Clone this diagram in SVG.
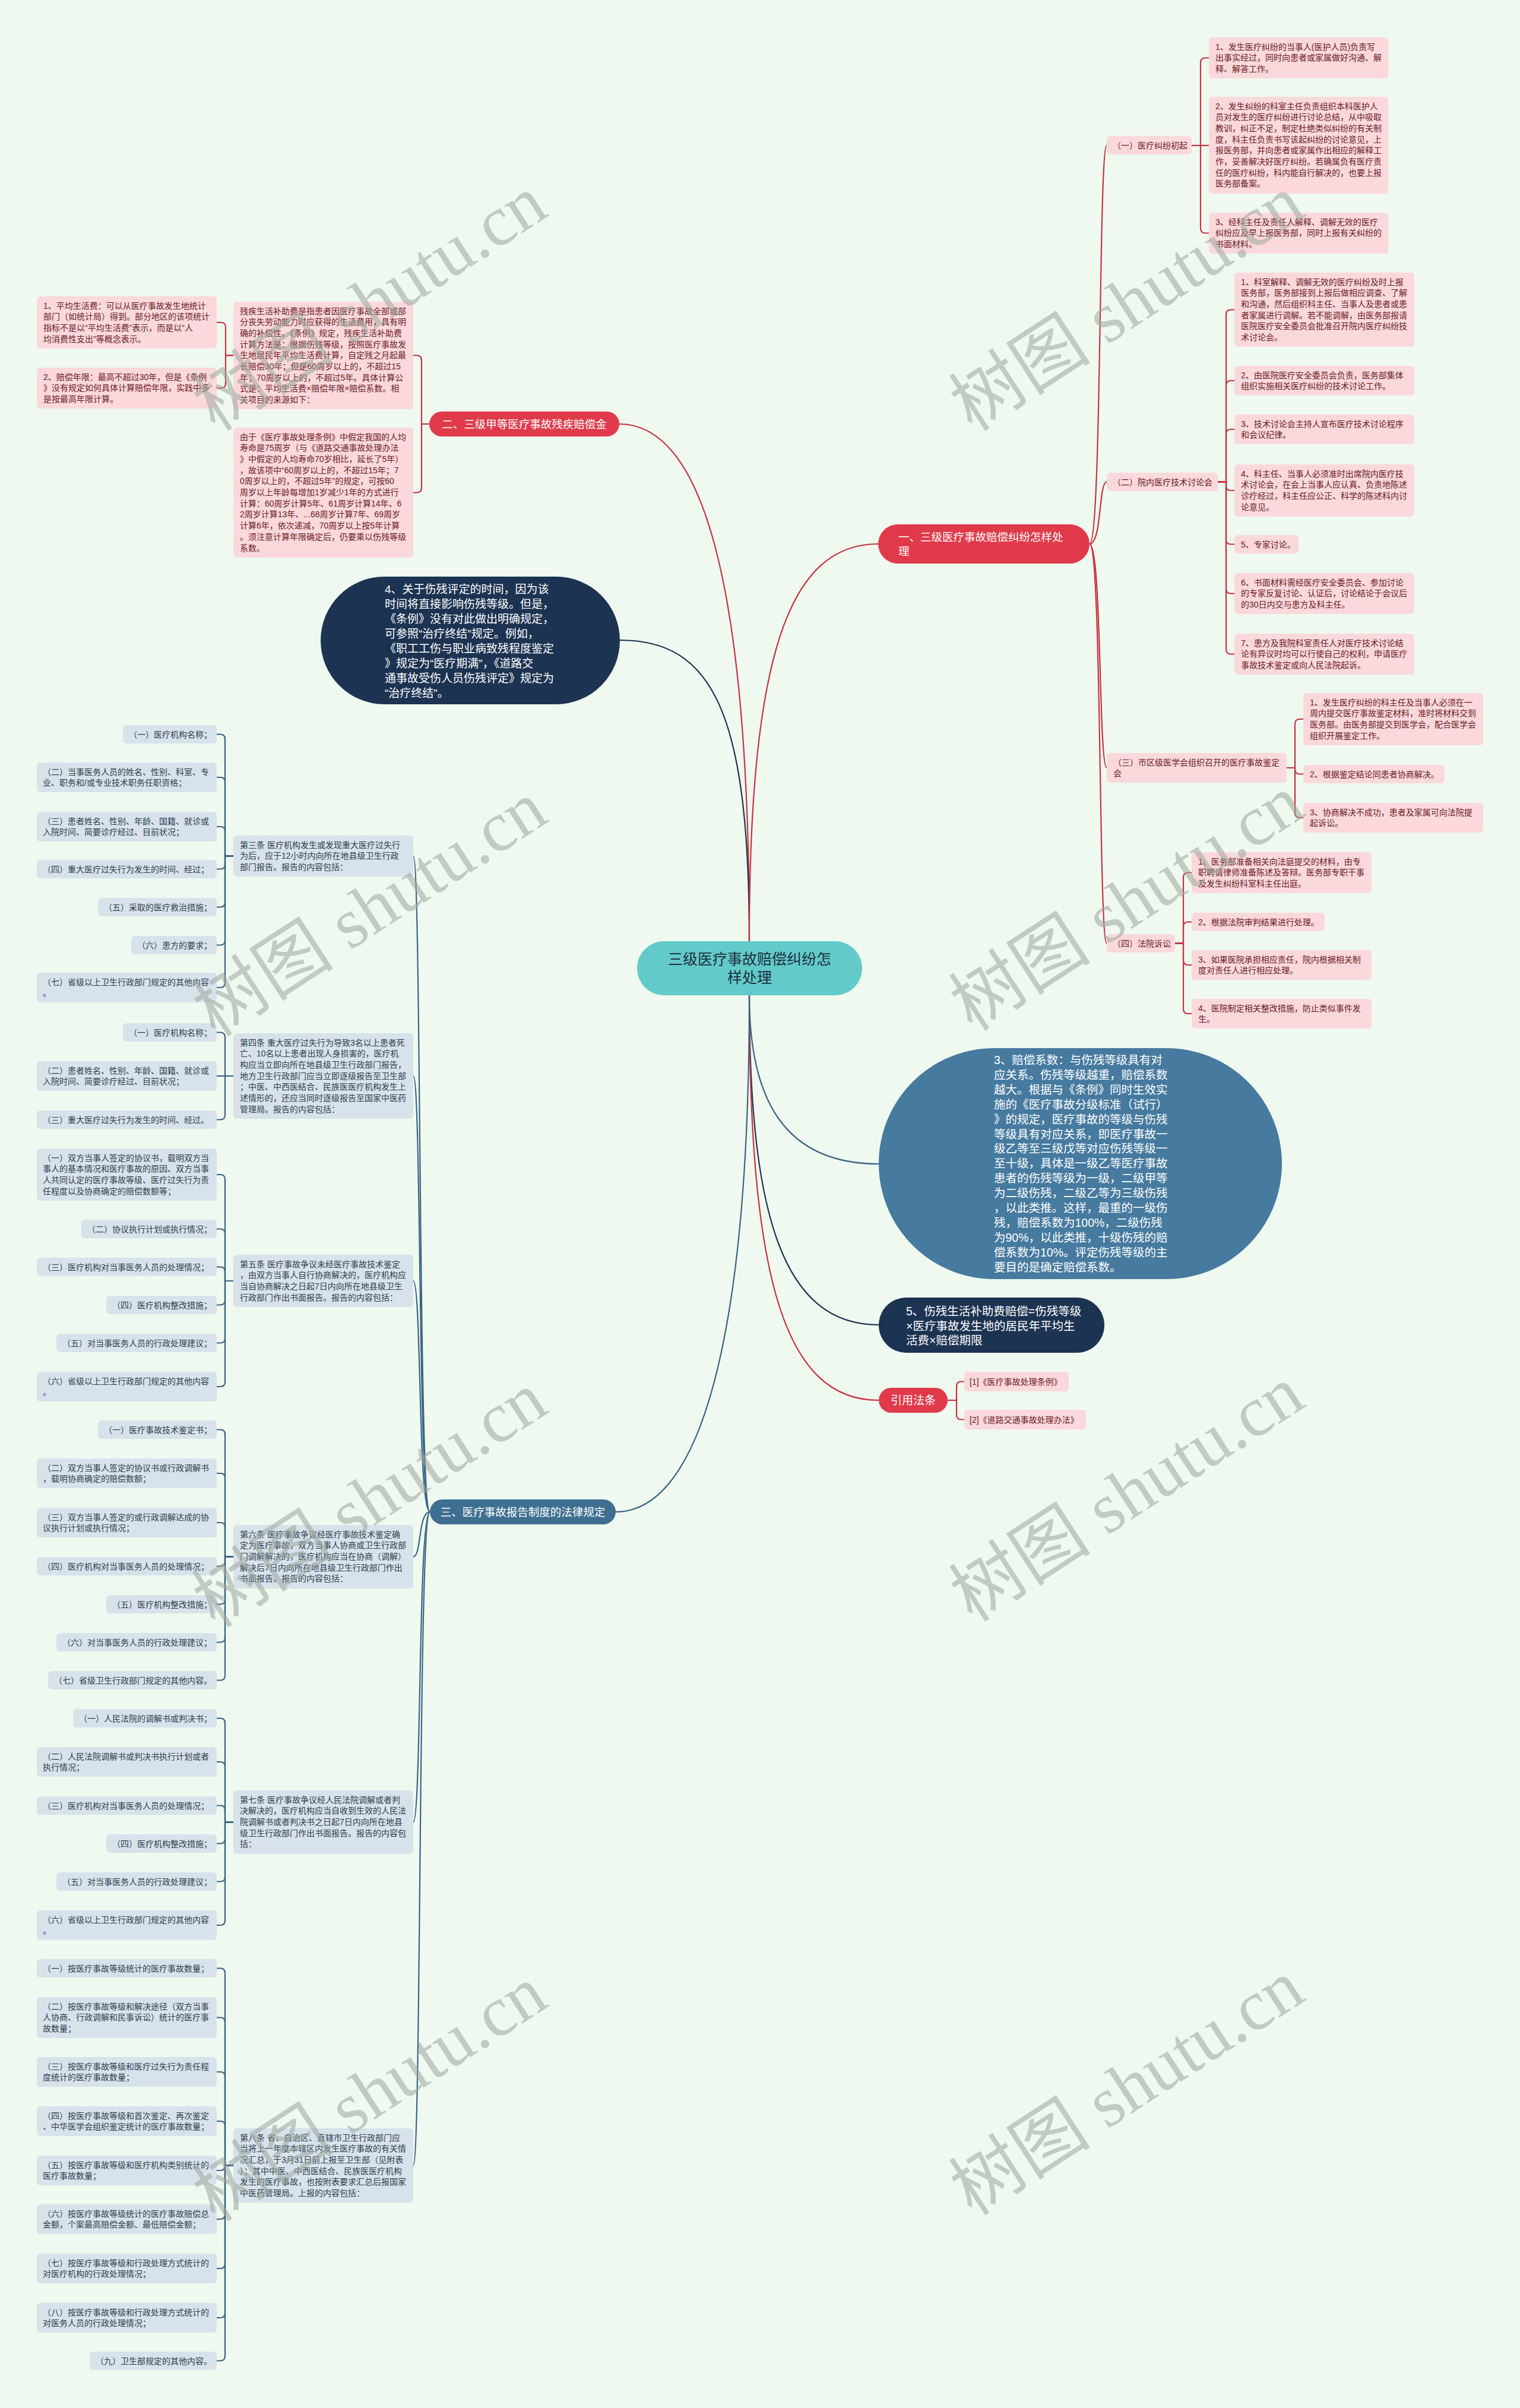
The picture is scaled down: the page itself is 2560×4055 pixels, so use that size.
<svg xmlns="http://www.w3.org/2000/svg" width="2560" height="4055" viewBox="0 0 2560 4055">
<defs>
<style>
text{font-family:"Liberation Sans","Noto Sans CJK SC",sans-serif;}
.pl{fill:#fbd8dc}
.bl{fill:#d8e2eb}
.tp{font-size:14px;fill:#6a1b24}
.tb{font-size:14px;fill:#2d3e50}
.cr{fill:none;stroke:#c83240;stroke-width:2.2}
.cb{fill:none;stroke:#3a6484;stroke-width:2.2}
.cn{fill:none;stroke:#1d3352;stroke-width:2.2}
.red{fill:#e03a4a}
.wt{fill:#ffffff}
.wm{font-family:"Liberation Serif","Noto Sans CJK SC",serif;font-size:120px;fill:#9ea79e;opacity:0.55}
</style>
</defs>
<rect x="0" y="0" width="2560" height="4055" fill="#eff9ef"/>

<g id="connectors">
<!-- root to main branches -->
<path class="cr" d="M1262,1585 C1262,1050 1200,714 1043,714"/>
<path class="cn" d="M1262,1585 C1262,1200 1200,1078 1044,1078"/>
<path class="cr" d="M1262,1585 C1262,1100 1330,916 1479,916"/>
<path class="cb" d="M1262,1676 C1262,1850 1320,1960 1480,1960"/>
<path class="cn" d="M1262,1676 C1262,2050 1320,2231 1480,2231"/>
<path class="cr" d="M1262,1676 C1262,2150 1320,2358 1480,2358"/>
<path class="cb" d="M1262,1676 C1262,2250 1180,2546 1037,2546"/>
<!-- branch 1 spine -->
<path class="cr" d="M1835,916 C1856,916 1850,245 1864,245"/>
<path class="cr" d="M1835,916 C1856,916 1850,811.5 1864,811.5"/>
<path class="cr" d="M1835,916 C1856,916 1850,1293 1864,1293"/>
<path class="cr" d="M1835,916 C1856,916 1850,1588.5 1864,1588.5"/>
<!-- (一) -->
<path class="cr" d="M2007,245 H2022 V105.5 Q2022,97.5 2030,97.5 H2036"/>
<path class="cr" d="M2007,245 H2036"/>
<path class="cr" d="M2007,245 H2022 V384.5 Q2022,392.5 2030,392.5 H2036"/>
<!-- (二) -->
<path class="cr" d="M2051,811.5 H2065 V529.5 Q2065,521.5 2073,521.5 H2079"/>
<path class="cr" d="M2051,811.5 H2065 V649 Q2065,641 2073,641 H2079"/>
<path class="cr" d="M2051,811.5 H2065 V731 Q2065,723 2073,723 H2079"/>
<path class="cr" d="M2051,811.5 H2065 V818 Q2065,826 2073,826 H2079"/>
<path class="cr" d="M2051,811.5 H2065 V908.5 Q2065,916.5 2073,916.5 H2079"/>
<path class="cr" d="M2051,811.5 H2065 V991.5 Q2065,999.5 2073,999.5 H2079"/>
<path class="cr" d="M2051,811.5 H2065 V1093.5 Q2065,1101.5 2073,1101.5 H2079"/>
<!-- (三) -->
<path class="cr" d="M2167,1293 H2181 V1219 Q2181,1211 2189,1211 H2195"/>
<path class="cr" d="M2167,1293 H2181 V1295.5 Q2181,1303.5 2189,1303.5 H2195"/>
<path class="cr" d="M2167,1293 H2181 V1369 Q2181,1377 2189,1377 H2195"/>
<!-- (四) -->
<path class="cr" d="M1979,1588.5 H1993 V1477.5 Q1993,1469.5 2001,1469.5 H2007"/>
<path class="cr" d="M1979,1588.5 H1993 V1560.5 Q1993,1552.5 2001,1552.5 H2007"/>
<path class="cr" d="M1979,1588.5 H1993 V1617 Q1993,1625 2001,1625 H2007"/>
<path class="cr" d="M1979,1588.5 H1993 V1699 Q1993,1707 2001,1707 H2007"/>
<!-- branch 2 -->
<path class="cr" d="M723,714 H710 V606.5 Q710,598.5 702,598.5 H696"/>
<path class="cr" d="M723,714 H710 V821.5 Q710,829.5 702,829.5 H696"/>
<path class="cr" d="M393,598.5 H380 V551 Q380,543 372,543 H365"/>
<path class="cr" d="M393,598.5 H380 V645.5 Q380,653.5 372,653.5 H365"/>
<!-- 引用法条 -->
<path class="cr" d="M1596,2358 H1611 V2334.5 Q1611,2326.5 1619,2326.5 H1624"/>
<path class="cr" d="M1596,2358 H1611 V2382.5 Q1611,2390.5 1619,2390.5 H1624"/>
<!-- branch 3 spine -->
<path class="cb" d="M724,2546 C704,2546 710,1441.5 696,1441.5"/>
<path class="cb" d="M724,2546 C704,2546 710,1812 696,1812"/>
<path class="cb" d="M724,2546 C704,2546 710,2157 696,2157"/>
<path class="cb" d="M724,2546 C704,2546 710,2621.5 696,2621.5"/>
<path class="cb" d="M724,2546 C704,2546 710,3068.5 696,3068.5"/>
<path class="cb" d="M724,2546 C704,2546 710,3646.5 696,3646.5"/>
<!-- 第三条 -->
<path class="cb" d="M393,1441.5 H379 V1244.5 Q379,1236.5 371,1236.5 H365"/>
<path class="cb" d="M393,1441.5 H379 V1317 Q379,1309 371,1309 H365"/>
<path class="cb" d="M393,1441.5 H379 V1400 Q379,1392 371,1392 H365"/>
<path class="cb" d="M393,1441.5 H379 V1455.5 Q379,1463.5 371,1463.5 H365"/>
<path class="cb" d="M393,1441.5 H379 V1519.5 Q379,1527.5 371,1527.5 H365"/>
<path class="cb" d="M393,1441.5 H379 V1583.5 Q379,1591.5 371,1591.5 H365"/>
<path class="cb" d="M393,1441.5 H379 V1655 Q379,1663 371,1663 H365"/>
<!-- 第四条 -->
<path class="cb" d="M393,1812 H379 V1746.5 Q379,1738.5 371,1738.5 H365"/>
<path class="cb" d="M393,1812 H365"/>
<path class="cb" d="M393,1812 H379 V1877.5 Q379,1885.5 371,1885.5 H365"/>
<!-- 第五条 -->
<path class="cb" d="M393,2157 H379 V1986 Q379,1978 371,1978 H365"/>
<path class="cb" d="M393,2157 H379 V2077.5 Q379,2069.5 371,2069.5 H365"/>
<path class="cb" d="M393,2157 H379 V2141.5 Q379,2133.5 371,2133.5 H365"/>
<path class="cb" d="M393,2157 H379 V2189.5 Q379,2197.5 371,2197.5 H365"/>
<path class="cb" d="M393,2157 H379 V2253.5 Q379,2261.5 371,2261.5 H365"/>
<path class="cb" d="M393,2157 H379 V2327 Q379,2335 371,2335 H365"/>
<!-- 第六条 -->
<path class="cb" d="M393,2621.5 H379 V2415.5 Q379,2407.5 371,2407.5 H365"/>
<path class="cb" d="M393,2621.5 H379 V2489 Q379,2481 371,2481 H365"/>
<path class="cb" d="M393,2621.5 H379 V2572 Q379,2564 371,2564 H365"/>
<path class="cb" d="M393,2621.5 H379 V2629.5 Q379,2637.5 371,2637.5 H365"/>
<path class="cb" d="M393,2621.5 H379 V2693.5 Q379,2701.5 371,2701.5 H365"/>
<path class="cb" d="M393,2621.5 H379 V2757.5 Q379,2765.5 371,2765.5 H365"/>
<path class="cb" d="M393,2621.5 H379 V2821.5 Q379,2829.5 371,2829.5 H365"/>
<!-- 第七条 -->
<path class="cb" d="M393,3068.5 H379 V2901.5 Q379,2893.5 371,2893.5 H365"/>
<path class="cb" d="M393,3068.5 H379 V2975 Q379,2967 371,2967 H365"/>
<path class="cb" d="M393,3068.5 H379 V3048.5 Q379,3040.5 371,3040.5 H365"/>
<path class="cb" d="M393,3068.5 H379 V3096.5 Q379,3104.5 371,3104.5 H365"/>
<path class="cb" d="M393,3068.5 H379 V3160.5 Q379,3168.5 371,3168.5 H365"/>
<path class="cb" d="M393,3068.5 H379 V3234 Q379,3242 371,3242 H365"/>
<!-- 第八条 -->
<path class="cb" d="M393,3646.5 H379 V3322.5 Q379,3314.5 371,3314.5 H365"/>
<path class="cb" d="M393,3646.5 H379 V3405.5 Q379,3397.5 371,3397.5 H365"/>
<path class="cb" d="M393,3646.5 H379 V3497 Q379,3489 371,3489 H365"/>
<path class="cb" d="M393,3646.5 H379 V3580 Q379,3572 371,3572 H365"/>
<path class="cb" d="M393,3646.5 H379 V3647 Q379,3655 371,3655 H365"/>
<path class="cb" d="M393,3646.5 H379 V3729 Q379,3737 371,3737 H365"/>
<path class="cb" d="M393,3646.5 H379 V3812 Q379,3820 371,3820 H365"/>
<path class="cb" d="M393,3646.5 H379 V3895 Q379,3903 371,3903 H365"/>
<path class="cb" d="M393,3646.5 H379 V3967.5 Q379,3975.5 371,3975.5 H365"/>
</g>

<!-- ROOT -->
<g id="root">
<rect x="1073" y="1585" width="379" height="91" rx="45.5" fill="#63caca"/>
<text x="1262.5" y="1624" font-size="25" fill="#1d3040" text-anchor="middle"><tspan x="1262.5">三级医疗事故赔偿纠纷怎</tspan><tspan x="1262.5" dy="31">样处理</tspan></text>
</g>

<!-- BRANCH 1 -->
<g id="b1">
<rect class="red" x="1479" y="883" width="356" height="66" rx="33"/>
<text class="wt" x="1513" y="911" font-size="18.5"><tspan x="1513">一、三级医疗事故赔偿纠纷怎样处</tspan><tspan x="1513" dy="24">理</tspan></text>
</g>
<g id="b1-1">
<rect class="pl" x="1864" y="229" width="143" height="31" rx="6"/>
<text class="tp" x="1874" y="250">（一）医疗纠纷初起</text>
</g>
<g id="b1-1-1"><rect class="pl" x="2036" y="63" width="302" height="69" rx="6"/>
<text class="tp" y="83.5"><tspan x="2047">1、发生医疗纠纷的当事人(医护人员)负责写</tspan><tspan x="2047" dy="18.7">出事实经过，同时向患者或家属做好沟通、解</tspan><tspan x="2047" dy="18.7">释、解答工作。</tspan></text></g>
<g id="b1-1-2"><rect class="pl" x="2036" y="163" width="302" height="163" rx="6"/>
<text class="tp" y="183.5"><tspan x="2047">2、发生纠纷的科室主任负责组织本科医护人</tspan><tspan x="2047" dy="18.7">员对发生的医疗纠纷进行讨论总结，从中吸取</tspan><tspan x="2047" dy="18.7">教训，纠正不足，制定杜绝类似纠纷的有关制</tspan><tspan x="2047" dy="18.7">度，科主任负责书写该起纠纷的讨论意见，上</tspan><tspan x="2047" dy="18.7">报医务部，并向患者或家属作出相应的解释工</tspan><tspan x="2047" dy="18.7">作，妥善解决好医疗纠纷。若确属负有医疗责</tspan><tspan x="2047" dy="18.7">任的医疗纠纷，科内能自行解决的，也要上报</tspan><tspan x="2047" dy="18.7">医务部备案。</tspan></text></g>
<g id="b1-1-3"><rect class="pl" x="2036" y="358" width="302" height="69" rx="6"/>
<text class="tp" y="378.5"><tspan x="2047">3、经科主任及责任人解释、调解无效的医疗</tspan><tspan x="2047" dy="18.7">纠纷应及早上报医务部，同时上报有关纠纷的</tspan><tspan x="2047" dy="18.7">书面材料。</tspan></text></g>

<g id="b1-2">
<rect class="pl" x="1864" y="796" width="187" height="31" rx="6"/>
<text class="tp" x="1874" y="817">（二）院内医疗技术讨论会</text>
</g>
<g id="b1-2-1"><rect class="pl" x="2079" y="459" width="303" height="125" rx="6"/>
<text class="tp" y="479.5"><tspan x="2090">1、科室解释、调解无效的医疗纠纷及时上报</tspan><tspan x="2090" dy="18.7">医务部，医务部接到上报后做相应调查、了解</tspan><tspan x="2090" dy="18.7">和沟通，然后组织科主任、当事人及患者或患</tspan><tspan x="2090" dy="18.7">者家属进行调解。若不能调解，由医务部报请</tspan><tspan x="2090" dy="18.7">医院医疗安全委员会批准召开院内医疗纠纷技</tspan><tspan x="2090" dy="18.7">术讨论会。</tspan></text></g>
<g id="b1-2-2"><rect class="pl" x="2079" y="616" width="303" height="50" rx="6"/>
<text class="tp" y="636.5"><tspan x="2090">2、由医院医疗安全委员会负责，医务部集体</tspan><tspan x="2090" dy="18.7">组织实施相关医疗纠纷的技术讨论工作。</tspan></text></g>
<g id="b1-2-3"><rect class="pl" x="2079" y="698" width="303" height="50" rx="6"/>
<text class="tp" y="718.5"><tspan x="2090">3、技术讨论会主持人宣布医疗技术讨论程序</tspan><tspan x="2090" dy="18.7">和会议纪律。</tspan></text></g>
<g id="b1-2-4"><rect class="pl" x="2079" y="782" width="303" height="88" rx="6"/>
<text class="tp" y="802.5"><tspan x="2090">4、科主任、当事人必须准时出席院内医疗技</tspan><tspan x="2090" dy="18.7">术讨论会，在会上当事人应认真、负责地陈述</tspan><tspan x="2090" dy="18.7">诊疗经过，科主任应公正、科学的陈述科内讨</tspan><tspan x="2090" dy="18.7">论意见。</tspan></text></g>
<g id="b1-2-5"><rect class="pl" x="2079" y="901" width="108" height="31" rx="6"/>
<text class="tp" x="2090" y="921.5">5、专家讨论。</text></g>
<g id="b1-2-6"><rect class="pl" x="2079" y="965" width="303" height="69" rx="6"/>
<text class="tp" y="985.5"><tspan x="2090">6、书面材料需经医疗安全委员会、参加讨论</tspan><tspan x="2090" dy="18.7">的专家反复讨论、认证后，讨论结论于会议后</tspan><tspan x="2090" dy="18.7">的30日内交与患方及科主任。</tspan></text></g>
<g id="b1-2-7"><rect class="pl" x="2079" y="1067" width="303" height="69" rx="6"/>
<text class="tp" y="1087.5"><tspan x="2090">7、患方及我院科室责任人对医疗技术讨论结</tspan><tspan x="2090" dy="18.7">论有异议时均可以行使自己的权利，申请医疗</tspan><tspan x="2090" dy="18.7">事故技术鉴定或向人民法院起诉。</tspan></text></g>

<g id="b1-3">
<rect class="pl" x="1864" y="1268" width="303" height="50" rx="6"/>
<text class="tp" y="1288.5"><tspan x="1875">（三）市区级医学会组织召开的医疗事故鉴定</tspan><tspan x="1875" dy="18.7">会</tspan></text>
</g>
<g id="b1-3-1"><rect class="pl" x="2195" y="1167" width="303" height="88" rx="6"/>
<text class="tp" y="1187.5"><tspan x="2206">1、发生医疗纠纷的科主任及当事人必须在一</tspan><tspan x="2206" dy="18.7">周内提交医疗事故鉴定材料，准时将材料交到</tspan><tspan x="2206" dy="18.7">医务部。由医务部提交到医学会，配合医学会</tspan><tspan x="2206" dy="18.7">组织开展鉴定工作。</tspan></text></g>
<g id="b1-3-2"><rect class="pl" x="2195" y="1288" width="238" height="31" rx="6"/>
<text class="tp" x="2206" y="1308.5">2、根据鉴定结论同患者协商解决。</text></g>
<g id="b1-3-3"><rect class="pl" x="2195" y="1352" width="303" height="50" rx="6"/>
<text class="tp" y="1372.5"><tspan x="2206">3、协商解决不成功，患者及家属可向法院提</tspan><tspan x="2206" dy="18.7">起诉讼。</tspan></text></g>

<g id="b1-4">
<rect class="pl" x="1864" y="1573" width="115" height="31" rx="6"/>
<text class="tp" x="1874" y="1594">（四）法院诉讼</text>
</g>
<g id="b1-4-1"><rect class="pl" x="2007" y="1435" width="303" height="69" rx="6"/>
<text class="tp" y="1455.5"><tspan x="2018">1、医务部准备相关向法庭提交的材料，由专</tspan><tspan x="2018" dy="18.7">职聘请律师准备陈述及答辩。医务部专职干事</tspan><tspan x="2018" dy="18.7">及发生纠纷科室科主任出庭。</tspan></text></g>
<g id="b1-4-2"><rect class="pl" x="2007" y="1537" width="224" height="31" rx="6"/>
<text class="tp" x="2018" y="1557.5">2、根据法院审判结果进行处理。</text></g>
<g id="b1-4-3"><rect class="pl" x="2007" y="1600" width="303" height="50" rx="6"/>
<text class="tp" y="1620.5"><tspan x="2018">3、如果医院承担相应责任，院内根据相关制</tspan><tspan x="2018" dy="18.7">度对责任人进行相应处理。</tspan></text></g>
<g id="b1-4-4"><rect class="pl" x="2007" y="1682" width="303" height="50" rx="6"/>
<text class="tp" y="1702.5"><tspan x="2018">4、医院制定相关整改措施，防止类似事件发</tspan><tspan x="2018" dy="18.7">生。</tspan></text></g>

<!-- BRANCH 2 -->
<g id="b2">
<rect class="red" x="723" y="693" width="320" height="42" rx="21"/>
<text class="wt" x="883" y="720.5" font-size="18.5" text-anchor="middle">二、三级甲等医疗事故残疾赔偿金</text>
</g>
<g id="b2-1"><rect class="pl" x="393" y="508" width="303" height="181" rx="6"/>
<text class="tp" y="528.5"><tspan x="404">残疾生活补助费是指患者因医疗事故全部或部</tspan><tspan x="404" dy="18.7">分丧失劳动能力时应获得的生活费用，具有明</tspan><tspan x="404" dy="18.7">确的补偿性。《条例》规定，残疾生活补助费</tspan><tspan x="404" dy="18.7">计算方法是：根据伤残等级，按照医疗事故发</tspan><tspan x="404" dy="18.7">生地居民年平均生活费计算，自定残之月起最</tspan><tspan x="404" dy="18.7">长赔偿30年；但是60周岁以上的，不超过15</tspan><tspan x="404" dy="18.7">年；70周岁以上的，不超过5年。具体计算公</tspan><tspan x="404" dy="18.7">式是：平均生活费×赔偿年限×赔偿系数。相</tspan><tspan x="404" dy="18.7">关项目的来源如下：</tspan></text></g>
<g id="b2-2"><rect class="pl" x="393" y="720" width="303" height="219" rx="6"/>
<text class="tp" y="740.5"><tspan x="404">由于《医疗事故处理条例》中假定我国的人均</tspan><tspan x="404" dy="18.7">寿命是75周岁（与《道路交通事故处理办法</tspan><tspan x="404" dy="18.7">》中假定的人均寿命70岁相比，延长了5年）</tspan><tspan x="404" dy="18.7">，故该项中“60周岁以上的，不超过15年；7</tspan><tspan x="404" dy="18.7">0周岁以上的，不超过5年”的规定，可按60</tspan><tspan x="404" dy="18.7">周岁以上年龄每增加1岁减少1年的方式进行</tspan><tspan x="404" dy="18.7">计算：60周岁计算5年、61周岁计算14年、6</tspan><tspan x="404" dy="18.7">2周岁计算13年、...68周岁计算7年、69周岁</tspan><tspan x="404" dy="18.7">计算6年，依次递减，70周岁以上按5年计算</tspan><tspan x="404" dy="18.7">。须注意计算年限确定后，仍要乘以伤残等级</tspan><tspan x="404" dy="18.7">系数。</tspan></text></g>
<g id="b2-1-1"><rect class="pl" x="62" y="499" width="303" height="88" rx="6"/>
<text class="tp" y="519.5"><tspan x="73">1、平均生活费：可以从医疗事故发生地统计</tspan><tspan x="73" dy="18.7">部门（如统计局）得到。部分地区的该项统计</tspan><tspan x="73" dy="18.7">指标不是以“平均生活费”表示，而是以“人</tspan><tspan x="73" dy="18.7">均消费性支出”等概念表示。</tspan></text></g>
<g id="b2-1-2"><rect class="pl" x="62" y="619" width="303" height="69" rx="6"/>
<text class="tp" y="639.5"><tspan x="73">2、赔偿年限：最高不超过30年，但是《条例</tspan><tspan x="73" dy="18.7">》没有规定如何具体计算赔偿年限，实践中多</tspan><tspan x="73" dy="18.7">是按最高年限计算。</tspan></text></g>

<!-- 4、 dark node -->
<g id="n4">
<rect x="540" y="971" width="504" height="215" rx="107.5" fill="#1d3352"/>
<text class="wt" y="998.5" font-size="19"><tspan x="648">4、关于伤残评定的时间，因为该</tspan><tspan x="648" dy="25">时间将直接影响伤残等级。但是，</tspan><tspan x="648" dy="25">《条例》没有对此做出明确规定，</tspan><tspan x="648" dy="25">可参照“治疗终结”规定。例如，</tspan><tspan x="648" dy="25">《职工工伤与职业病致残程度鉴定</tspan><tspan x="648" dy="25">》规定为“医疗期满”，《道路交</tspan><tspan x="648" dy="25">通事故受伤人员伤残评定》规定为</tspan><tspan x="648" dy="25">“治疗终结”。</tspan></text>
</g>

<!-- 3、 blob -->
<g id="n3">
<rect x="1480" y="1765" width="679" height="389" rx="194.5" fill="#467a9f"/>
<text class="wt" y="1792" font-size="19.5"><tspan x="1674">3、赔偿系数：与伤残等级具有对</tspan><tspan x="1674" dy="24.9">应关系。伤残等级越重，赔偿系数</tspan><tspan x="1674" dy="24.9">越大。根据与《条例》同时生效实</tspan><tspan x="1674" dy="24.9">施的《医疗事故分级标准（试行）</tspan><tspan x="1674" dy="24.9">》的规定，医疗事故的等级与伤残</tspan><tspan x="1674" dy="24.9">等级具有对应关系，即医疗事故一</tspan><tspan x="1674" dy="24.9">级乙等至三级戊等对应伤残等级一</tspan><tspan x="1674" dy="24.9">至十级，具体是一级乙等医疗事故</tspan><tspan x="1674" dy="24.9">患者的伤残等级为一级，二级甲等</tspan><tspan x="1674" dy="24.9">为二级伤残，二级乙等为三级伤残</tspan><tspan x="1674" dy="24.9">，以此类推。这样，最重的一级伤</tspan><tspan x="1674" dy="24.9">残，赔偿系数为100%，二级伤残</tspan><tspan x="1674" dy="24.9">为90%，以此类推，十级伤残的赔</tspan><tspan x="1674" dy="24.9">偿系数为10%。评定伤残等级的主</tspan><tspan x="1674" dy="24.9">要目的是确定赔偿系数。</tspan></text>
</g>

<!-- 5、 node -->
<g id="n5">
<rect x="1480" y="2185" width="380" height="93" rx="46.5" fill="#1d3352"/>
<text class="wt" y="2215" font-size="19.5"><tspan x="1526">5、伤残生活补助费赔偿=伤残等级</tspan><tspan x="1526" dy="24.5">×医疗事故发生地的居民年平均生</tspan><tspan x="1526" dy="24.5">活费×赔偿期限</tspan></text>
</g>

<!-- 引用法条 -->
<g id="ref">
<rect class="red" x="1480" y="2337" width="116" height="42" rx="21"/>
<text class="wt" x="1538" y="2365" font-size="19" text-anchor="middle">引用法条</text>
</g>
<g id="ref-1"><rect class="pl" x="1624" y="2310" width="176" height="33" rx="5"/>
<text class="tp" x="1633" y="2332">[1]《医疗事故处理条例》</text></g>
<g id="ref-2"><rect class="pl" x="1624" y="2374" width="205" height="33" rx="5"/>
<text class="tp" x="1633" y="2396">[2]《道路交通事故处理办法》</text></g>

<!-- BRANCH 3 -->
<g id="b3">
<rect x="724" y="2525" width="313" height="42" rx="21" fill="#3e6f91"/>
<text class="wt" x="880.5" y="2552.5" font-size="18.5" text-anchor="middle">三、医疗事故报告制度的法律规定</text>
</g>

<g id="a3"><rect class="bl" x="393" y="1407" width="303" height="69" rx="6"/>
<text class="tb" y="1427.5"><tspan x="404">第三条 医疗机构发生或发现重大医疗过失行</tspan><tspan x="404" dy="18.7">为后，应于12小时内向所在地县级卫生行政</tspan><tspan x="404" dy="18.7">部门报告。报告的内容包括：</tspan></text></g>
<g id="a3-1"><rect class="bl" x="207" y="1221" width="158" height="31" rx="6"/><text class="tb" x="217" y="1241.5">（一）医疗机构名称；</text></g>
<g id="a3-2"><rect class="bl" x="62" y="1284" width="303" height="50" rx="6"/><text class="tb" y="1304.5"><tspan x="72">（二）当事医务人员的姓名、性别、科室、专</tspan><tspan x="72" dy="18.7">业、职务和/或专业技术职务任职资格；</tspan></text></g>
<g id="a3-3"><rect class="bl" x="62" y="1367" width="303" height="50" rx="6"/><text class="tb" y="1387.5"><tspan x="72">（三）患者姓名、性别、年龄、国籍、就诊或</tspan><tspan x="72" dy="18.7">入院时间、简要诊疗经过、目前状况；</tspan></text></g>
<g id="a3-4"><rect class="bl" x="62" y="1448" width="303" height="31" rx="6"/><text class="tb" x="72" y="1468.5">（四）重大医疗过失行为发生的时间、经过；</text></g>
<g id="a3-5"><rect class="bl" x="165" y="1512" width="200" height="31" rx="6"/><text class="tb" x="175" y="1532.5">（五）采取的医疗救治措施；</text></g>
<g id="a3-6"><rect class="bl" x="221" y="1576" width="144" height="31" rx="6"/><text class="tb" x="231" y="1596.5">（六）患方的要求；</text></g>
<g id="a3-7"><rect class="bl" x="62" y="1638" width="303" height="50" rx="6"/><text class="tb" y="1658.5"><tspan x="72">（七）省级以上卫生行政部门规定的其他内容</tspan><tspan x="72" dy="18.7">。</tspan></text></g>

<g id="a4"><rect class="bl" x="393" y="1740" width="303" height="144" rx="6"/>
<text class="tb" y="1760.5"><tspan x="404">第四条 重大医疗过失行为导致3名以上患者死</tspan><tspan x="404" dy="18.7">亡、10名以上患者出现人身损害的，医疗机</tspan><tspan x="404" dy="18.7">构应当立即向所在地县级卫生行政部门报告，</tspan><tspan x="404" dy="18.7">地方卫生行政部门应当立即逐级报告至卫生部</tspan><tspan x="404" dy="18.7">；中医、中西医结合、民族医医疗机构发生上</tspan><tspan x="404" dy="18.7">述情形的，还应当同时逐级报告至国家中医药</tspan><tspan x="404" dy="18.7">管理局。报告的内容包括：</tspan></text></g>
<g id="a4-1"><rect class="bl" x="207" y="1723" width="158" height="31" rx="6"/><text class="tb" x="217" y="1743.5">（一）医疗机构名称；</text></g>
<g id="a4-2"><rect class="bl" x="62" y="1787" width="303" height="50" rx="6"/><text class="tb" y="1807.5"><tspan x="72">（二）患者姓名、性别、年龄、国籍、就诊或</tspan><tspan x="72" dy="18.7">入院时间、简要诊疗经过、目前状况；</tspan></text></g>
<g id="a4-3"><rect class="bl" x="62" y="1870" width="303" height="31" rx="6"/><text class="tb" x="72" y="1890.5">（三）重大医疗过失行为发生的时间、经过。</text></g>

<g id="a5"><rect class="bl" x="393" y="2113" width="303" height="88" rx="6"/>
<text class="tb" y="2133.5"><tspan x="404">第五条 医疗事故争议未经医疗事故技术鉴定</tspan><tspan x="404" dy="18.7">，由双方当事人自行协商解决的，医疗机构应</tspan><tspan x="404" dy="18.7">当自协商解决之日起7日内向所在地县级卫生</tspan><tspan x="404" dy="18.7">行政部门作出书面报告。报告的内容包括：</tspan></text></g>
<g id="a5-1"><rect class="bl" x="62" y="1934" width="303" height="88" rx="6"/><text class="tb" y="1954.5"><tspan x="72">（一）双方当事人签定的协议书，载明双方当</tspan><tspan x="72" dy="18.7">事人的基本情况和医疗事故的原因、双方当事</tspan><tspan x="72" dy="18.7">人共同认定的医疗事故等级、医疗过失行为责</tspan><tspan x="72" dy="18.7">任程度以及协商确定的赔偿数额等；</tspan></text></g>
<g id="a5-2"><rect class="bl" x="137" y="2054" width="228" height="31" rx="6"/><text class="tb" x="147" y="2074.5">（二）协议执行计划或执行情况；</text></g>
<g id="a5-3"><rect class="bl" x="62" y="2118" width="303" height="31" rx="6"/><text class="tb" x="72" y="2138.5">（三）医疗机构对当事医务人员的处理情况；</text></g>
<g id="a5-4"><rect class="bl" x="179" y="2182" width="186" height="31" rx="6"/><text class="tb" x="189" y="2202.5">（四）医疗机构整改措施；</text></g>
<g id="a5-5"><rect class="bl" x="95" y="2246" width="270" height="31" rx="6"/><text class="tb" x="105" y="2266.5">（五）对当事医务人员的行政处理建议；</text></g>
<g id="a5-6"><rect class="bl" x="62" y="2310" width="303" height="50" rx="6"/><text class="tb" y="2330.5"><tspan x="72">（六）省级以上卫生行政部门规定的其他内容</tspan><tspan x="72" dy="18.7">。</tspan></text></g>

<g id="a6"><rect class="bl" x="393" y="2568" width="303" height="107" rx="6"/>
<text class="tb" y="2588.5"><tspan x="404">第六条 医疗事故争议经医疗事故技术鉴定确</tspan><tspan x="404" dy="18.7">定为医疗事故，双方当事人协商或卫生行政部</tspan><tspan x="404" dy="18.7">门调解解决的，医疗机构应当在协商（调解）</tspan><tspan x="404" dy="18.7">解决后7日内向所在地县级卫生行政部门作出</tspan><tspan x="404" dy="18.7">书面报告。报告的内容包括：</tspan></text></g>
<g id="a6-1"><rect class="bl" x="165" y="2392" width="200" height="31" rx="6"/><text class="tb" x="175" y="2412.5">（一）医疗事故技术鉴定书；</text></g>
<g id="a6-2"><rect class="bl" x="62" y="2456" width="303" height="50" rx="6"/><text class="tb" y="2476.5"><tspan x="72">（二）双方当事人签定的协议书或行政调解书</tspan><tspan x="72" dy="18.7">，载明协商确定的赔偿数额；</tspan></text></g>
<g id="a6-3"><rect class="bl" x="62" y="2539" width="303" height="50" rx="6"/><text class="tb" y="2559.5"><tspan x="72">（三）双方当事人签定的或行政调解达成的协</tspan><tspan x="72" dy="18.7">议执行计划或执行情况；</tspan></text></g>
<g id="a6-4"><rect class="bl" x="62" y="2622" width="303" height="31" rx="6"/><text class="tb" x="72" y="2642.5">（四）医疗机构对当事医务人员的处理情况；</text></g>
<g id="a6-5"><rect class="bl" x="179" y="2686" width="186" height="31" rx="6"/><text class="tb" x="189" y="2706.5">（五）医疗机构整改措施；</text></g>
<g id="a6-6"><rect class="bl" x="95" y="2750" width="270" height="31" rx="6"/><text class="tb" x="105" y="2770.5">（六）对当事医务人员的行政处理建议；</text></g>
<g id="a6-7"><rect class="bl" x="81" y="2814" width="284" height="31" rx="6"/><text class="tb" x="91" y="2834.5">（七）省级卫生行政部门规定的其他内容。</text></g>

<g id="a7"><rect class="bl" x="393" y="3015" width="303" height="107" rx="6"/>
<text class="tb" y="3035.5"><tspan x="404">第七条 医疗事故争议经人民法院调解或者判</tspan><tspan x="404" dy="18.7">决解决的，医疗机构应当自收到生效的人民法</tspan><tspan x="404" dy="18.7">院调解书或者判决书之日起7日内向所在地县</tspan><tspan x="404" dy="18.7">级卫生行政部门作出书面报告。报告的内容包</tspan><tspan x="404" dy="18.7">括：</tspan></text></g>
<g id="a7-1"><rect class="bl" x="123" y="2878" width="242" height="31" rx="6"/><text class="tb" x="133" y="2898.5">（一）人民法院的调解书或判决书；</text></g>
<g id="a7-2"><rect class="bl" x="62" y="2942" width="303" height="50" rx="6"/><text class="tb" y="2962.5"><tspan x="72">（二）人民法院调解书或判决书执行计划或者</tspan><tspan x="72" dy="18.7">执行情况；</tspan></text></g>
<g id="a7-3"><rect class="bl" x="62" y="3025" width="303" height="31" rx="6"/><text class="tb" x="72" y="3045.5">（三）医疗机构对当事医务人员的处理情况；</text></g>
<g id="a7-4"><rect class="bl" x="179" y="3089" width="186" height="31" rx="6"/><text class="tb" x="189" y="3109.5">（四）医疗机构整改措施；</text></g>
<g id="a7-5"><rect class="bl" x="95" y="3153" width="270" height="31" rx="6"/><text class="tb" x="105" y="3173.5">（五）对当事医务人员的行政处理建议；</text></g>
<g id="a7-6"><rect class="bl" x="62" y="3217" width="303" height="50" rx="6"/><text class="tb" y="3237.5"><tspan x="72">（六）省级以上卫生行政部门规定的其他内容</tspan><tspan x="72" dy="18.7">。</tspan></text></g>

<g id="a8"><rect class="bl" x="393" y="3584" width="303" height="125" rx="6"/>
<text class="tb" y="3604.5"><tspan x="404">第八条 省、自治区、直辖市卫生行政部门应</tspan><tspan x="404" dy="18.7">当将上一年度本辖区内发生医疗事故的有关情</tspan><tspan x="404" dy="18.7">况汇总，于3月31日前上报至卫生部（见附表</tspan><tspan x="404" dy="18.7">）；其中中医、中西医结合、民族医医疗机构</tspan><tspan x="404" dy="18.7">发生的医疗事故，也按附表要求汇总后报国家</tspan><tspan x="404" dy="18.7">中医药管理局。上报的内容包括：</tspan></text></g>
<g id="a8-1"><rect class="bl" x="62" y="3299" width="303" height="31" rx="6"/><text class="tb" x="72" y="3319.5">（一）按医疗事故等级统计的医疗事故数量；</text></g>
<g id="a8-2"><rect class="bl" x="62" y="3363" width="303" height="69" rx="6"/><text class="tb" y="3383.5"><tspan x="72">（二）按医疗事故等级和解决途径（双方当事</tspan><tspan x="72" dy="18.7">人协商、行政调解和民事诉讼）统计的医疗事</tspan><tspan x="72" dy="18.7">故数量；</tspan></text></g>
<g id="a8-3"><rect class="bl" x="62" y="3464" width="303" height="50" rx="6"/><text class="tb" y="3484.5"><tspan x="72">（三）按医疗事故等级和医疗过失行为责任程</tspan><tspan x="72" dy="18.7">度统计的医疗事故数量；</tspan></text></g>
<g id="a8-4"><rect class="bl" x="62" y="3547" width="303" height="50" rx="6"/><text class="tb" y="3567.5"><tspan x="72">（四）按医疗事故等级和首次鉴定、再次鉴定</tspan><tspan x="72" dy="18.7">、中华医学会组织鉴定统计的医疗事故数量；</tspan></text></g>
<g id="a8-5"><rect class="bl" x="62" y="3630" width="303" height="50" rx="6"/><text class="tb" y="3650.5"><tspan x="72">（五）按医疗事故等级和医疗机构类别统计的</tspan><tspan x="72" dy="18.7">医疗事故数量；</tspan></text></g>
<g id="a8-6"><rect class="bl" x="62" y="3712" width="303" height="50" rx="6"/><text class="tb" y="3732.5"><tspan x="72">（六）按医疗事故等级统计的医疗事故赔偿总</tspan><tspan x="72" dy="18.7">金额，个案最高赔偿金额、最低赔偿金额；</tspan></text></g>
<g id="a8-7"><rect class="bl" x="62" y="3795" width="303" height="50" rx="6"/><text class="tb" y="3815.5"><tspan x="72">（七）按医疗事故等级和行政处理方式统计的</tspan><tspan x="72" dy="18.7">对医疗机构的行政处理情况；</tspan></text></g>
<g id="a8-8"><rect class="bl" x="62" y="3878" width="303" height="50" rx="6"/><text class="tb" y="3898.5"><tspan x="72">（八）按医疗事故等级和行政处理方式统计的</tspan><tspan x="72" dy="18.7">对医务人员的行政处理情况；</tspan></text></g>
<g id="a8-9"><rect class="bl" x="151" y="3960" width="214" height="31" rx="6"/><text class="tb" x="161" y="3980.5">（九）卫生部规定的其他内容。</text></g>

<g id="watermarks">
<text class="wm" text-anchor="middle" transform="translate(645,545) rotate(-33)">树图 shutu.cn</text>
<text class="wm" text-anchor="middle" transform="translate(1920,545) rotate(-33)">树图 shutu.cn</text>
<text class="wm" text-anchor="middle" transform="translate(645,1565) rotate(-33)">树图 shutu.cn</text>
<text class="wm" text-anchor="middle" transform="translate(1920,1555) rotate(-33)">树图 shutu.cn</text>
<text class="wm" text-anchor="middle" transform="translate(645,2560) rotate(-33)">树图 shutu.cn</text>
<text class="wm" text-anchor="middle" transform="translate(1920,2550) rotate(-33)">树图 shutu.cn</text>
<text class="wm" text-anchor="middle" transform="translate(645,3560) rotate(-33)">树图 shutu.cn</text>
<text class="wm" text-anchor="middle" transform="translate(1920,3550) rotate(-33)">树图 shutu.cn</text>
</g>
</svg>
